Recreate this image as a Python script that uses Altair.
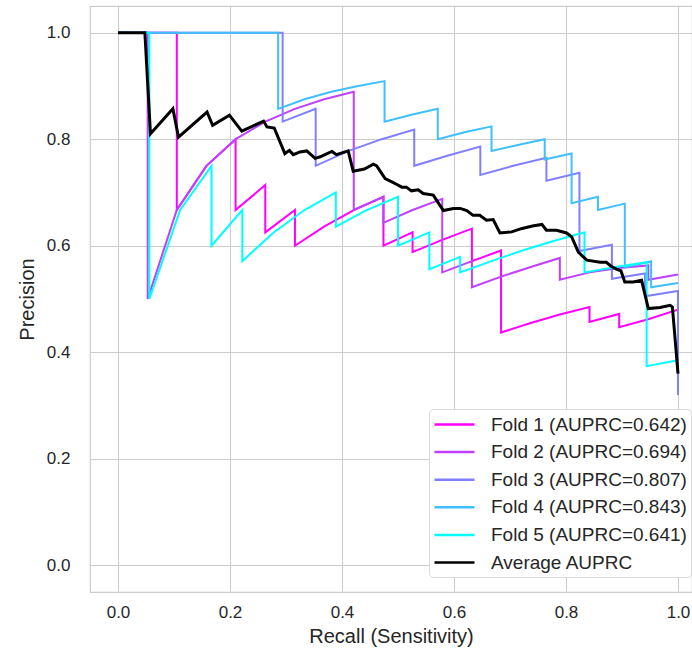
import altair as alt
import pandas as pd

series_names = ["Fold 1 (AUPRC=0.642)", "Fold 2 (AUPRC=0.694)", "Fold 3 (AUPRC=0.807)",
                "Fold 4 (AUPRC=0.843)", "Fold 5 (AUPRC=0.641)", "Average AUPRC"]
colors = ["#ff00ff", "#bf40ff", "#8080ff", "#40bfff", "#00ffff", "#000000"]
widths = [2, 2, 2, 2, 2, 3]

fold1_recall = [0, 0.105, 0.105, 0.158, 0.21, 0.21, 0.263, 0.263, 0.316, 0.316, 0.368, 0.421, 0.474,
                0.474, 0.526, 0.526, 0.579, 0.632, 0.632, 0.684, 0.684, 0.737, 0.789, 0.842, 0.842,
                0.895, 0.895, 0.947, 1.0]
fold1_precision = [1, 1, 0.667, 0.75, 0.8, 0.667, 0.714, 0.625, 0.667, 0.6, 0.636, 0.667, 0.692,
                   0.6, 0.625, 0.588, 0.611, 0.632, 0.571, 0.591, 0.437, 0.455, 0.471, 0.485, 0.457,
                   0.472, 0.447, 0.462, 0.48]

fold2_recall = [0, 0.053, 0.053, 0.105, 0.158, 0.21, 0.263, 0.316, 0.368, 0.421, 0.421, 0.474, 0.474,
                0.526, 0.579, 0.579, 0.632, 0.632, 0.684, 0.737, 0.789, 0.789, 0.842, 0.895, 0.947,
                0.947, 1.0]
fold2_precision = [1, 1, 0.5, 0.667, 0.75, 0.8, 0.833, 0.857, 0.875, 0.889, 0.667, 0.692, 0.643,
                   0.667, 0.688, 0.55, 0.571, 0.522, 0.542, 0.56, 0.577, 0.536, 0.55, 0.558, 0.563,
                   0.536, 0.546]

fold3_recall = [0, 0.294, 0.294, 0.353, 0.353, 0.412, 0.471, 0.529, 0.529, 0.588, 0.647, 0.647, 0.706,
                0.765, 0.765, 0.824, 0.824, 0.882, 0.882, 0.941, 0.941, 1.0, 1.0]
fold3_precision = [1, 1, 0.833, 0.857, 0.75, 0.778, 0.8, 0.818, 0.75, 0.769, 0.786, 0.733, 0.75,
                   0.765, 0.722, 0.737, 0.59, 0.602, 0.538, 0.548, 0.505, 0.515, 0.32]

fold4_recall = [0, 0.286, 0.286, 0.333, 0.381, 0.429, 0.476, 0.476, 0.524, 0.571, 0.571, 0.619, 0.667,
                0.667, 0.714, 0.762, 0.762, 0.81, 0.81, 0.857, 0.857, 0.905, 0.905, 0.952, 0.952, 1.0]
fold4_precision = [1, 1, 0.857, 0.875, 0.889, 0.9, 0.909, 0.833, 0.846, 0.857, 0.8, 0.813, 0.824,
                   0.778, 0.789, 0.8, 0.762, 0.773, 0.68, 0.692, 0.667, 0.679, 0.559, 0.571, 0.522, 0.53]

fold5_recall = [0, 0.056, 0.056, 0.111, 0.167, 0.167, 0.222, 0.222, 0.278, 0.333, 0.389, 0.389, 0.444,
                0.5, 0.5, 0.556, 0.556, 0.611, 0.611, 0.667, 0.722, 0.778, 0.833, 0.833, 0.889, 0.944,
                0.944, 1.0]
fold5_precision = [1, 1, 0.5, 0.667, 0.75, 0.6, 0.667, 0.571, 0.625, 0.667, 0.7, 0.636, 0.667,
                   0.692, 0.6, 0.625, 0.556, 0.579, 0.55, 0.571, 0.591, 0.609, 0.625, 0.55, 0.56, 0.569,
                   0.374, 0.385]

avg_recall = [0, 0.048, 0.058, 0.098, 0.108, 0.159, 0.169, 0.199, 0.221, 0.26, 0.266, 0.279, 0.298,
              0.306, 0.313, 0.325, 0.337, 0.352, 0.361, 0.382, 0.39, 0.411, 0.42, 0.44, 0.456, 0.462,
              0.477, 0.489, 0.498, 0.507, 0.515, 0.524, 0.536, 0.545, 0.563, 0.581, 0.599, 0.611,
              0.623, 0.634, 0.646, 0.658, 0.67, 0.682, 0.703, 0.72, 0.74, 0.757, 0.765, 0.783, 0.801,
              0.81, 0.822, 0.837, 0.861, 0.872, 0.88, 0.89, 0.898, 0.905, 0.92, 0.935, 0.947, 0.968,
              0.986, 0.99, 1.0]
avg_precision = [1, 1, 0.81, 0.857, 0.804, 0.851, 0.826, 0.845, 0.815, 0.834, 0.823, 0.821, 0.773,
                 0.779, 0.771, 0.776, 0.778, 0.764, 0.767, 0.777, 0.771, 0.778, 0.74, 0.744, 0.753, 0.75,
                 0.726, 0.72, 0.715, 0.71, 0.71, 0.703, 0.705, 0.698, 0.695, 0.666, 0.67, 0.67,
                 0.666, 0.657, 0.657, 0.648, 0.649, 0.624, 0.626, 0.632, 0.637, 0.64, 0.629, 0.629, 0.624,
                 0.617, 0.588, 0.573, 0.569, 0.569, 0.562, 0.556, 0.553, 0.532, 0.532, 0.535, 0.482, 0.484,
                 0.488, 0.485, 0.36]

all_recall = [fold1_recall, fold2_recall, fold3_recall, fold4_recall, fold5_recall, avg_recall]
all_precision = [fold1_precision, fold2_precision, fold3_precision, fold4_precision, fold5_precision,
                 avg_precision]

rows = []
for name, w, rs, ps in zip(series_names, widths, all_recall, all_precision):
    for i, (r, p) in enumerate(zip(rs, ps)):
        rows.append({"series": name, "recall": r, "precision": p, "order": i, "lw": w})
df = pd.DataFrame(rows)

ticks = [0.0, 0.2, 0.4, 0.6, 0.8, 1.0]
FONT = "Liberation Sans"

chart = alt.Chart(df).mark_line(clip=True).encode(
    x=alt.X("recall:Q",
            scale=alt.Scale(domain=[-0.05, 1.025], nice=False, zero=False),
            axis=alt.Axis(values=ticks, format=".1f", title="Recall (Sensitivity)")),
    y=alt.Y("precision:Q",
            scale=alt.Scale(domain=[-0.05, 1.05], nice=False, zero=False),
            axis=alt.Axis(values=ticks, format=".1f", title="Precision")),
    color=alt.Color("series:N", scale=alt.Scale(domain=series_names, range=colors),
                    legend=alt.Legend(title=None)),
    strokeWidth=alt.StrokeWidth("lw:Q", scale=None),
    order=alt.Order("order:Q"),
).properties(
    width=602, height=586,
    autosize=alt.AutoSizeParams(type="none"),
    padding={"left": 90, "top": 6, "right": 0, "bottom": 57},
).configure_view(
    stroke="#cccccc", strokeWidth=1.2, fill="white"
).configure_axis(
    grid=True, gridColor="#cccccc", gridWidth=1.1, domain=False, ticks=False, tickSize=0,
    labelFont=FONT, labelFontSize=17, labelColor="#262626",
    titleFont=FONT, titleFontSize=20, titleColor="#262626", titleFontWeight="normal",
).configure_axisX(
    labelPadding=12, titlePadding=6,
).configure_axisY(
    labelPadding=20, titlePadding=9,
).configure_legend(
    orient="none", legendX=339, legendY=403,
    labelFont=FONT, labelFontSize=19, labelColor="#262626", labelLimit=400,
    symbolType="M-2,0L2,0", symbolSize=400, symbolOffset=10, symbolStrokeWidth=2.5,
    padding=4, rowPadding=5.6, labelOffset=25,
    fillColor="white", strokeColor="#d9d9d9", cornerRadius=4,
)

chart.save("out.html", embed_options={"renderer": "svg", "actions": False})
